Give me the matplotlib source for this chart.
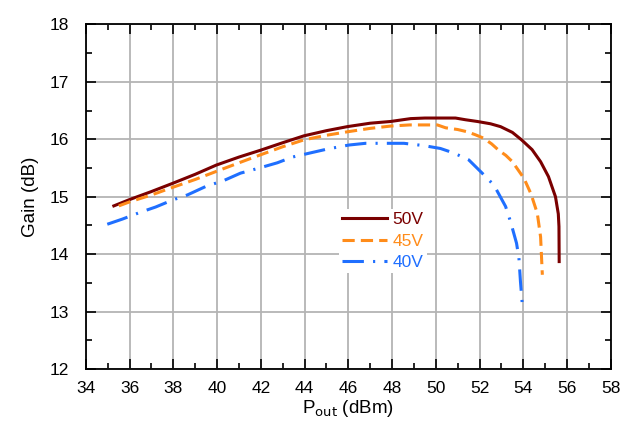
import numpy as np
import matplotlib
matplotlib.use("Agg")
import matplotlib.pyplot as plt
from matplotlib.ticker import MultipleLocator

plt.rcParams['font.family'] = ['Liberation Sans', 'DejaVu Sans']

# gain vs output power
p50 = [35.28, 36.0, 37.0, 37.95, 39.0, 39.96, 41.0, 41.99, 43.0, 43.97, 45.0, 45.95, 47.0,
       47.93, 48.85, 49.5, 50.2, 50.9, 51.36, 51.9, 52.5, 52.96, 53.5, 53.92, 54.4, 54.79,
       55.15, 55.47, 55.6, 55.63, 55.64]
g50 = [14.84, 14.95, 15.09, 15.23, 15.39, 15.55, 15.69, 15.81, 15.94, 16.06, 16.15, 16.22, 16.28,
       16.31, 16.36, 16.37, 16.37, 16.37, 16.34, 16.31, 16.27, 16.22, 16.12, 15.99, 15.82, 15.61,
       15.35, 15.0, 14.7, 14.48, 13.87]

p45 = [35.51, 36.0, 37.0, 37.95, 39.0, 39.96, 41.0, 41.99, 43.0, 43.97, 45.0, 45.95, 47.0,
       47.93, 48.8, 49.5, 50.07, 50.45, 51.0, 51.44, 51.8, 52.18, 52.55, 52.87, 53.2, 53.5,
       54.03, 54.35, 54.64, 54.79, 54.87]
g45 = [14.84, 14.91, 15.03, 15.16, 15.3, 15.44, 15.59, 15.73, 15.87, 15.99, 16.07, 16.13, 16.19,
       16.23, 16.25, 16.25, 16.25, 16.2, 16.17, 16.13, 16.08, 16.02, 15.92, 15.81, 15.72, 15.61,
       15.32, 15.05, 14.71, 14.3, 13.64]

p40 = [34.98, 35.67, 36.5, 37.19, 37.95, 38.64, 39.55, 40.24, 41.07, 41.84, 42.75, 43.44,
       44.35, 45.04, 46.03, 46.79, 47.78, 48.54, 49.45, 50.21, 50.83, 51.51, 52.12, 52.66,
       53.19, 53.42, 53.69, 53.8, 53.87, 53.95]
g40 = [14.52, 14.61, 14.73, 14.82, 14.94, 15.03, 15.19, 15.27, 15.41, 15.49, 15.59, 15.69,
       15.77, 15.83, 15.9, 15.93, 15.93, 15.93, 15.89, 15.84, 15.76, 15.64, 15.41, 15.2,
       14.83, 14.56, 14.19, 13.93, 13.52, 13.14]

c50 = '#7a0000'
c45 = '#ff8c1a'
c40 = '#1f6fff'

fig = plt.figure(figsize=(6.22, 4.29), dpi=100)
ax = fig.add_axes([0.138, 0.14, 0.844, 0.803])

ax.plot(p50, g50, color=c50, lw=2.2, label='50V')
ax.plot(p45, g45, color=c45, lw=2.2, ls=(0, (4, 2)), label='45V')
ax.plot(p40, g40, color=c40, lw=2.2, ls=(0, (7, 3, 0.7, 3)), label='40V')

ax.set_xlim(34, 58)
ax.set_ylim(12, 18)
ax.xaxis.set_major_locator(MultipleLocator(2))
ax.xaxis.set_minor_locator(MultipleLocator(1))
ax.yaxis.set_major_locator(MultipleLocator(1))
ax.yaxis.set_minor_locator(MultipleLocator(0.5))
ax.tick_params(which='both', direction='in', top=True, right=True, labelsize=12.5, width=1.2)
ax.tick_params(which='major', length=7)
ax.tick_params(axis='x', which='major', pad=9)
ax.tick_params(axis='y', which='major', pad=12)
ax.tick_params(which='minor', length=4)
ax.grid(True, which='major', color='#b4b4b4', lw=1.3)
ax.set_axisbelow(True)
for s in ax.spines.values():
    s.set_linewidth(1.3)

ax.set_xlabel(r'P$_{\rm out}$ (dBm)', fontsize=13.5, labelpad=1)
ax.set_ylabel('Gain (dB)', fontsize=13.5, labelpad=8)

leg = ax.legend(loc='upper left', bbox_to_anchor=(0.465, 0.49), frameon=True, fontsize=12.5,
                handlelength=2.6, labelspacing=0.35, borderpad=0.2, handletextpad=0.3)
leg.get_frame().set_edgecolor('none')
leg.get_frame().set_facecolor('white')
leg.get_frame().set_alpha(1)
for t, c in zip(leg.get_texts(), [c50, c45, c40]):
    t.set_color(c)

fig.savefig('out.png', dpi=100)
